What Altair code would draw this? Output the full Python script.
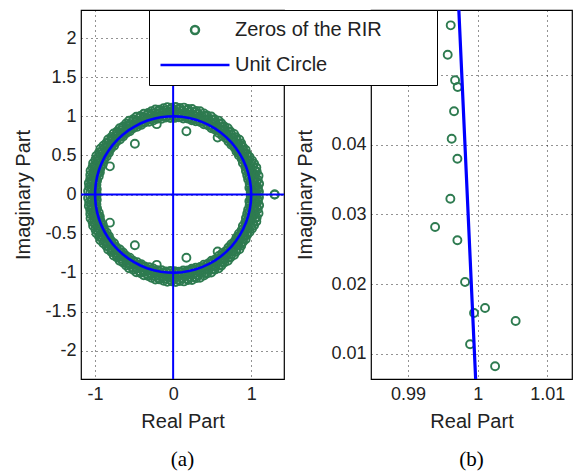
import sys
import numpy as np
import pandas as pd
import altair as alt

# ---------------- data ----------------
ZEROS = "Zeros of the RIR"
UNIT = "Unit Circle"

# band of zeros around the unit circle, upper half-plane (angle in degrees, radius);
# the lower half-plane holds their complex conjugates
outer_deg = [1.8, 4.5, 7.1, 9.9, 12.4, 15.3, 17.9, 20.8, 23.2, 26.1, 28.7, 31.6, 34.0, 36.9,
             39.5, 42.3, 44.8, 47.7, 50.4, 53.0, 55.9, 58.4, 61.2, 63.9, 66.7, 69.2, 72.1, 74.6,
             77.5, 80.1, 82.9, 85.6, 88.3, 91.0, 93.8, 96.3, 99.2, 101.8, 104.6, 107.1, 110.0,
             112.7, 115.4, 118.0, 120.9, 123.5, 126.2, 128.9, 131.7, 134.3, 137.0, 139.8, 142.4,
             145.1, 147.9, 150.5, 153.3, 155.8, 158.7, 161.3, 164.0, 166.8, 169.4, 172.2, 174.8,
             177.6]
outer_r = [1.10, 1.09, 1.11, 1.10, 1.12, 1.11, 1.12, 1.11, 1.10, 1.09, 1.08, 1.09, 1.08, 1.09,
           1.10, 1.09, 1.10, 1.09, 1.10, 1.09, 1.10, 1.11, 1.10, 1.11, 1.10, 1.11, 1.12, 1.11,
           1.12, 1.11, 1.12, 1.11, 1.12, 1.11, 1.12, 1.11, 1.10, 1.11, 1.10, 1.09, 1.10, 1.09,
           1.10, 1.09, 1.10, 1.09, 1.08, 1.09, 1.08, 1.09, 1.08, 1.09, 1.08, 1.09, 1.10, 1.09,
           1.10, 1.09, 1.10, 1.09, 1.10, 1.09, 1.08, 1.09, 1.08, 1.09]
upper_deg = [0.3, 3.1, 5.6, 8.4, 11.0, 13.7, 16.2, 19.1, 21.6, 24.5, 27.0, 29.9, 32.3, 35.2,
             37.7, 40.6, 43.1, 46.0, 48.5, 51.4, 53.9, 56.8, 59.3, 62.2, 64.7, 67.6, 70.1, 73.0,
             75.5, 78.4, 80.9, 83.8, 86.3, 89.2, 91.7, 94.6, 97.1, 100.0, 102.5, 105.4, 107.9,
             110.8, 113.3, 116.2, 118.7, 121.6, 124.1, 127.0, 129.5, 132.4, 134.9, 137.8, 140.3,
             143.2, 145.7, 148.6, 151.1, 154.0, 156.5, 159.4, 161.9, 164.8, 167.3, 170.2, 172.7,
             175.6, 178.3]
upper_r = [1.07, 1.08, 1.07, 1.08, 1.07, 1.08, 1.09, 1.08, 1.07, 1.06, 1.07, 1.06, 1.06, 1.07,
           1.06, 1.07, 1.06, 1.07, 1.07, 1.06, 1.07, 1.08, 1.07, 1.08, 1.07, 1.08, 1.07, 1.08,
           1.09, 1.08, 1.09, 1.08, 1.09, 1.08, 1.09, 1.08, 1.07, 1.08, 1.07, 1.06, 1.07, 1.06,
           1.07, 1.06, 1.07, 1.06, 1.06, 1.07, 1.06, 1.06, 1.05, 1.06, 1.06, 1.05, 1.06, 1.07,
           1.06, 1.07, 1.06, 1.07, 1.06, 1.06, 1.05, 1.06, 1.06, 1.05, 1.06]
mid_deg = [0.6, 3.2, 5.9, 8.5, 11.2, 13.8, 16.6, 19.3, 21.9, 24.6, 27.4, 30.0, 32.7, 35.5,
           38.1, 40.9, 43.5, 46.2, 49.0, 51.7, 54.4, 57.1, 59.8, 62.6, 65.2, 68.0, 70.6, 73.3,
           76.1, 78.8, 81.5, 84.2, 86.9, 89.6, 92.4, 95.0, 97.8, 100.5, 103.2, 105.9, 108.6,
           111.3, 114.1, 116.8, 119.5, 122.2, 124.9, 127.6, 130.3, 133.0, 135.7, 138.4, 141.1,
           143.8, 146.6, 149.2, 152.0, 154.6, 157.4, 160.1, 162.8, 165.6, 168.2, 171.0, 173.6,
           176.4, 179.1]
mid_r = [1.04, 1.05, 1.04, 1.05, 1.04, 1.05, 1.04, 1.04, 1.03, 1.04, 1.03, 1.04, 1.03, 1.03,
         1.04, 1.03, 1.04, 1.03, 1.04, 1.04, 1.03, 1.04, 1.05, 1.04, 1.05, 1.04, 1.05, 1.04,
         1.05, 1.04, 1.05, 1.04, 1.05, 1.04, 1.05, 1.04, 1.05, 1.04, 1.03, 1.04, 1.03, 1.04,
         1.03, 1.04, 1.03, 1.04, 1.03, 1.02, 1.03, 1.04, 1.03, 1.04, 1.03, 1.04, 1.03, 1.04,
         1.03, 1.04, 1.03, 1.04, 1.03, 1.04, 1.03, 1.04, 1.03, 1.04, 1.03]
near_deg = [4.0, 6.8, 9.7, 12.3, 15.2, 17.8, 20.6, 23.5, 26.1, 29.0, 31.7, 34.4, 37.3, 39.9,
            42.8, 45.4, 48.3, 50.9, 53.8, 56.4, 59.3, 61.9, 64.8, 67.4, 70.3, 72.9, 75.8, 78.4,
            81.3, 83.9, 86.8, 89.4, 92.3, 94.9, 97.8, 100.4, 103.3, 105.9, 108.8, 111.4, 114.3,
            116.9, 119.8, 122.4, 125.3, 127.9, 130.8, 133.4, 136.3, 138.9, 141.8, 144.4, 147.3,
            149.9, 152.8, 155.4, 158.3, 160.9, 163.8, 166.4, 169.3, 171.9, 174.8, 177.4, 179.8]
near_r = [1.01, 1.00, 1.01, 1.00, 1.01, 1.01, 1.00, 1.01, 1.00, 1.01, 1.00, 1.00, 1.01, 1.00,
          1.01, 1.00, 1.01, 1.00, 1.01, 1.01, 1.00, 1.01, 1.00, 1.01, 1.00, 1.01, 1.00, 1.01,
          1.01, 1.00, 1.01, 1.00, 1.01, 1.00, 1.01, 1.00, 1.01, 1.00, 1.01, 1.00, 1.00, 1.01,
          1.00, 1.01, 1.00, 1.01, 1.00, 1.01, 1.00, 1.01, 1.00, 1.01, 1.00, 1.01, 1.00, 1.01,
          1.00, 1.01, 1.00, 1.01, 1.00, 1.01, 1.00, 1.01, 1.00]
inner_deg = [5.0, 8.2, 11.5, 14.6, 17.9, 21.1, 24.3, 27.6, 30.8, 34.1, 37.2, 40.5, 43.7, 47.0,
             50.1, 53.4, 56.6, 59.9, 63.0, 66.3, 69.5, 72.8, 75.9, 79.2, 82.4, 85.7, 88.9, 92.1,
             95.4, 98.6, 101.8, 105.1, 108.3, 111.6, 114.7, 118.0, 121.2, 124.5, 127.6, 130.9,
             134.1, 137.4, 140.5, 143.8, 147.0, 150.3, 153.4, 156.7, 159.9, 163.2, 166.3, 169.6,
             172.8, 176.1, 179.3]
inner_r = [0.98, 0.99, 0.98, 0.98, 0.98, 0.99, 0.98, 0.99, 0.98, 0.98, 0.99, 0.98, 0.98, 0.99,
           0.98, 0.98, 0.99, 0.98, 0.99, 0.98, 0.99, 0.98, 0.98, 0.99, 0.98, 0.99, 0.98, 0.98,
           0.99, 0.98, 0.99, 0.98, 0.98, 0.99, 0.98, 0.98, 0.99, 0.98, 0.99, 0.98, 0.98, 0.99,
           0.98, 0.99, 0.98, 0.98, 0.99, 0.98, 0.99, 0.98, 0.98, 0.99, 0.99, 0.98, 0.98]

# isolated zeros away from the band (upper half)
iso_re = [0.17, -0.49, -0.81, 0.57, -0.21, 1.30]
iso_im = [0.81, 0.65, 0.36, 0.73, 0.90, 0.00]

# zeros seen in the zoomed view (b)
zoom_re = [0.99613, 0.99570, 0.99676, 0.99713, 0.99661, 0.99627, 0.99709, 0.99608,
           0.99389, 0.99709, 0.99819, 1.00106, 0.99948, 1.00545, 0.99891, 1.00250]
zoom_im = [0.05713, 0.05291, 0.04924, 0.04828, 0.04479, 0.04086, 0.03799, 0.03225,
           0.02819, 0.02628, 0.02030, 0.01657, 0.01585, 0.01470, 0.01136, 0.00820]

# unit circle as drawn by MATLAB's zplane (70 vertices)
UNIT_N = 70

left_x_ticks = [-1, 0, 1]
left_y_ticks = [-2, -1.5, -1, -0.5, 0, 0.5, 1, 1.5, 2]
right_x_ticks = [0.99, 1, 1.01]
right_y_ticks = [0.01, 0.02, 0.03, 0.04, 0.05]
right_y_hidden = 0.05   # its label sits under the legend box in the reference

# ---------------- tables ----------------
deg = np.array(outer_deg + upper_deg + mid_deg + near_deg + inner_deg)
rad = np.array(outer_r + upper_r + mid_r + near_r + inner_r)
band_re = rad * np.cos(np.radians(deg))
band_im = rad * np.sin(np.radians(deg))
up_re = np.concatenate([band_re, iso_re, zoom_re])
up_im = np.concatenate([band_im, iso_im, zoom_im])
zeros_df = pd.DataFrame({
    "re": np.concatenate([up_re, up_re]),
    "im": np.concatenate([up_im, -up_im]),
    "series": ZEROS,
})

th = np.linspace(0, 2 * np.pi, UNIT_N)
circle_df = pd.DataFrame({"re": np.cos(th), "im": np.sin(th), "k": np.arange(UNIT_N), "series": UNIT})

GREEN = "#2e7b50"
BLUE = "#0000ff"
TXT = "#222222"
SANS = "Liberation Sans"

neg_fmt = "datum.value < 0 ? '-' + format(-datum.value, '~g') : format(datum.value, '~g')"
hide_fmt = ("abs(datum.value - " + str(right_y_hidden) + ") < 1e-9 ? '' : " + neg_fmt)
# blank (non-whitespace) filler that widens the legend box like MATLAB's
pad = "\u2800" * 3
ring_path = "M0.116,0A0.116,0.116,0,1,1,-0.116,0A0.116,0.116,0,1,1,0.116,0Z"


def build(use_expr):
    kw = dict(
        title=None, orient="none", legendX=68, legendY=0,
        fillColor="white", strokeColor="black", padding=10,
        labelFont=SANS, labelFontSize=20, labelColor=TXT, labelOffset=4, labelLimit=500,
        labelExpr="datum.label + '" + pad + "'",
        symbolSize=4761, symbolStrokeWidth=2.5, clipHeight=20, rowPadding=15,
    )
    if use_expr:
        kw["symbolType"] = alt.ExprRef("datum.value === '" + UNIT + "' ? 'stroke' : '" + ring_path + "'")
    legend = alt.Legend(**kw)
    color = alt.Color("series:N", scale=alt.Scale(domain=[ZEROS, UNIT], range=[GREEN, BLUE]), legend=legend)

    def panel(xdom, ydom, xt, yt, w, h, cap, clip, cross, ytp, ylab):
        x = alt.X("re:Q", scale=alt.Scale(domain=xdom, nice=False, zero=False),
                  axis=alt.Axis(values=xt, title="Real Part", labelExpr=neg_fmt,
                                labelPadding=6, titlePadding=8))
        y = alt.Y("im:Q", scale=alt.Scale(domain=ydom, nice=False, zero=False),
                  axis=alt.Axis(values=yt, title="Imaginary Part", labelExpr=ylab,
                                labelPadding=5, titlePadding=ytp))
        pts = alt.Chart(zeros_df).mark_point(shape="circle", filled=False, size=64, strokeWidth=1.9,
                                             opacity=1, clip=clip).encode(x=x, y=y, color=color)
        circ = alt.Chart(circle_df).mark_line(strokeWidth=3.2 if clip else 2.6, clip=clip).encode(
            x=x, y=y, order="k:Q", color=color)
        layers = [pts, circ]
        if cross:
            layers.append(alt.Chart(pd.DataFrame({"re": [0]})).mark_rule(color=BLUE, strokeWidth=2).encode(x=x))
            layers.append(alt.Chart(pd.DataFrame({"im": [0]})).mark_rule(color=BLUE, strokeWidth=2).encode(y=y))
        return alt.layer(*layers).properties(
            width=w, height=h,
            title=alt.Title(cap, orient="bottom", font="Liberation Serif", fontSize=21,
                            fontWeight="normal", color="black", offset=18),
        )

    left = panel([-1.18, 1.42], [-2.36, 2.36], left_x_ticks, left_y_ticks, 203, 369, "(a)",
                 False, True, 11, neg_fmt)
    right = panel([0.98469, 1.01354], [0.00637, 0.05933], right_x_ticks, right_y_ticks, 201, 369, "(b)",
                  True, False, 15, hide_fmt)

    return alt.hconcat(left, right, spacing=87, bounds="flush").configure(
        padding={"left": 5, "top": 0, "right": 0, "bottom": 0}
    ).configure_view(stroke="black", strokeWidth=1.2).configure_axis(
        domain=False, ticks=False, grid=True, gridDash=[1, 4], gridColor="black", gridOpacity=0.85,
        labelFont=SANS, labelFontSize=18, labelColor=TXT,
        titleFont=SANS, titleFontSize=20, titleFontWeight="normal", titleColor=TXT,
    )


try:
    chart = build(True)
    chart.save("out.html", embed_options={"renderer": "svg", "actions": False})
except Exception as e:
    print("EXPR FAILED: " + str(e)[:500].replace("\n", " | "), file=sys.stderr)
    chart = build(False)
    chart.save("out.html", embed_options={"renderer": "svg", "actions": False})
